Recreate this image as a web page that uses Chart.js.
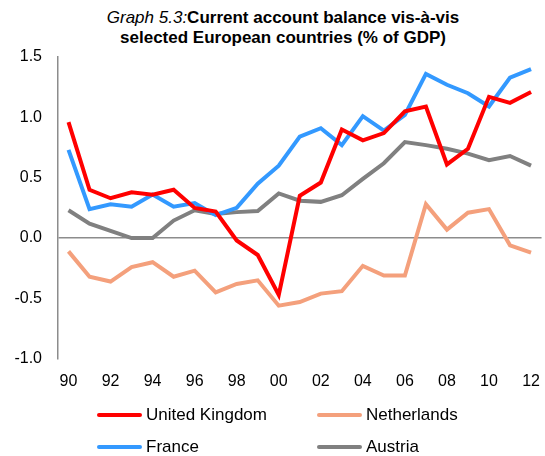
<!DOCTYPE html>
<html>
<head>
<meta charset="utf-8">
<script src="https://cdn.jsdelivr.net/npm/chart.js@4/dist/chart.umd.min.js"></script>
<style>
  body { margin: 0; background: #fff; font-family: "Liberation Sans", Arial, sans-serif; }
  #wrap { position: relative; width: 545px; height: 456px; }
  #chart { position: absolute; left: 0; top: 0; }
  #title { position: absolute; left: 0; top: 8px; width: 566px; text-align: center;
           font-size: 17px; line-height: 20px; color: #000; }
  #title b { font-weight: bold; }
  .leg { position: absolute; font-size: 17px; color: #000; height: 20px; line-height: 20px; white-space: nowrap; }
  .leg span.line { display: inline-block; width: 45px; height: 4px; border-radius: 2px; vertical-align: middle; margin-right: 4px; position: relative; top: -1px; }
</style>
</head>
<body>
<div id="wrap">
  <div id="title"><i>Graph 5.3:</i><b>Current account balance vis-à-vis<br>selected European countries (% of GDP)</b></div>
  <canvas id="chart" width="545" height="456"></canvas>
  <div id="legend"></div>
</div>
<script>
const years = ["90","91","92","93","94","95","96","97","98","99","00","01","02","03","04","05","06","07","08","09","10","11","12"];
const unitedKingdom = [0.96,0.40,0.33,0.38,0.36,0.40,0.25,0.22,-0.02,-0.14,-0.47,0.35,0.46,0.90,0.81,0.87,1.05,1.09,0.61,0.74,1.17,1.12,1.21];
const netherlands = [-0.11,-0.32,-0.36,-0.24,-0.20,-0.32,-0.27,-0.45,-0.38,-0.35,-0.56,-0.53,-0.46,-0.44,-0.23,-0.31,-0.31,0.28,0.07,0.21,0.24,-0.06,-0.12];
const france = [0.73,0.24,0.28,0.26,0.36,0.26,0.29,0.19,0.25,0.45,0.60,0.84,0.91,0.77,1.01,0.89,1.02,1.36,1.27,1.20,1.09,1.33,1.40];
const austria = [0.23,0.12,0.06,0.00,0.00,0.145,0.23,0.20,0.215,0.225,0.37,0.31,0.30,0.355,0.49,0.62,0.795,0.77,0.74,0.70,0.645,0.68,0.60];

const seriesNames = ["United Kingdom", "Netherlands", "France", "Austria"];
const seriesColors = ["#ff0000", "#f4a07c", "#3399ff", "#808080"];
const seriesData = [unitedKingdom, netherlands, france, austria];

document.addEventListener("DOMContentLoaded", () => {
  const fontFamily = "'Liberation Sans', Arial, sans-serif";

  const datasets = seriesNames.map((name, i) => ({
    label: name,
    data: seriesData[i],
    borderColor: seriesColors[i],
    backgroundColor: seriesColors[i],
    borderWidth: 4,
    pointRadius: 0,
    tension: 0,
    fill: false
  }));
  // draw order: gray and salmon under, red on top
  datasets[0].order = 1;
  datasets[2].order = 2;
  datasets[3].order = 3;
  datasets[1].order = 4;

  new Chart(document.getElementById("chart"), {
    type: "line",
    data: { labels: years, datasets },
    options: {
      responsive: false,
      animation: false,
      layout: { padding: { top: 57, right: 3, bottom: 60, left: 0 } },
      plugins: { legend: { display: false }, title: { display: false }, tooltip: { enabled: false } },
      scales: {
        x: {
          offset: true,
          grid: { display: false },
          border: { display: false },
          ticks: {
            autoSkip: false,
            maxRotation: 0,
            padding: 5,
            color: "#000",
            font: { family: fontFamily, size: 16 },
            callback: (v, i) => (i % 2 === 0 ? years[i] : "")
          }
        },
        y: {
          min: -1,
          max: 1.5,
          afterFit: (scale) => { scale.width = 58; },
          ticks: {
            stepSize: 0.5,
            padding: 16,
            color: "#000",
            font: { family: fontFamily, size: 16 },
            callback: (v) => v.toFixed(1)
          },
          grid: {
            drawTicks: false,
            lineWidth: 1.5,
            color: (ctx) => (ctx.tick && ctx.tick.value === 0 ? "#8c8c8c" : "rgba(0,0,0,0)")
          },
          border: { display: true, color: "#8c8c8c", width: 1.5 }
        }
      }
    }
  });

  // 2x2 legend below the plot
  const legend = document.getElementById("legend");
  const spots = [[97, 405], [317, 405], [97, 437], [317, 437]];
  seriesNames.forEach((name, i) => {
    const div = document.createElement("div");
    div.className = "leg";
    div.style.left = spots[i][0] + "px";
    div.style.top = spots[i][1] + "px";
    div.innerHTML = `<span class="line" style="background:${seriesColors[i]}"></span>${name}`;
    legend.appendChild(div);
  });
});
</script>
</body>
</html>
